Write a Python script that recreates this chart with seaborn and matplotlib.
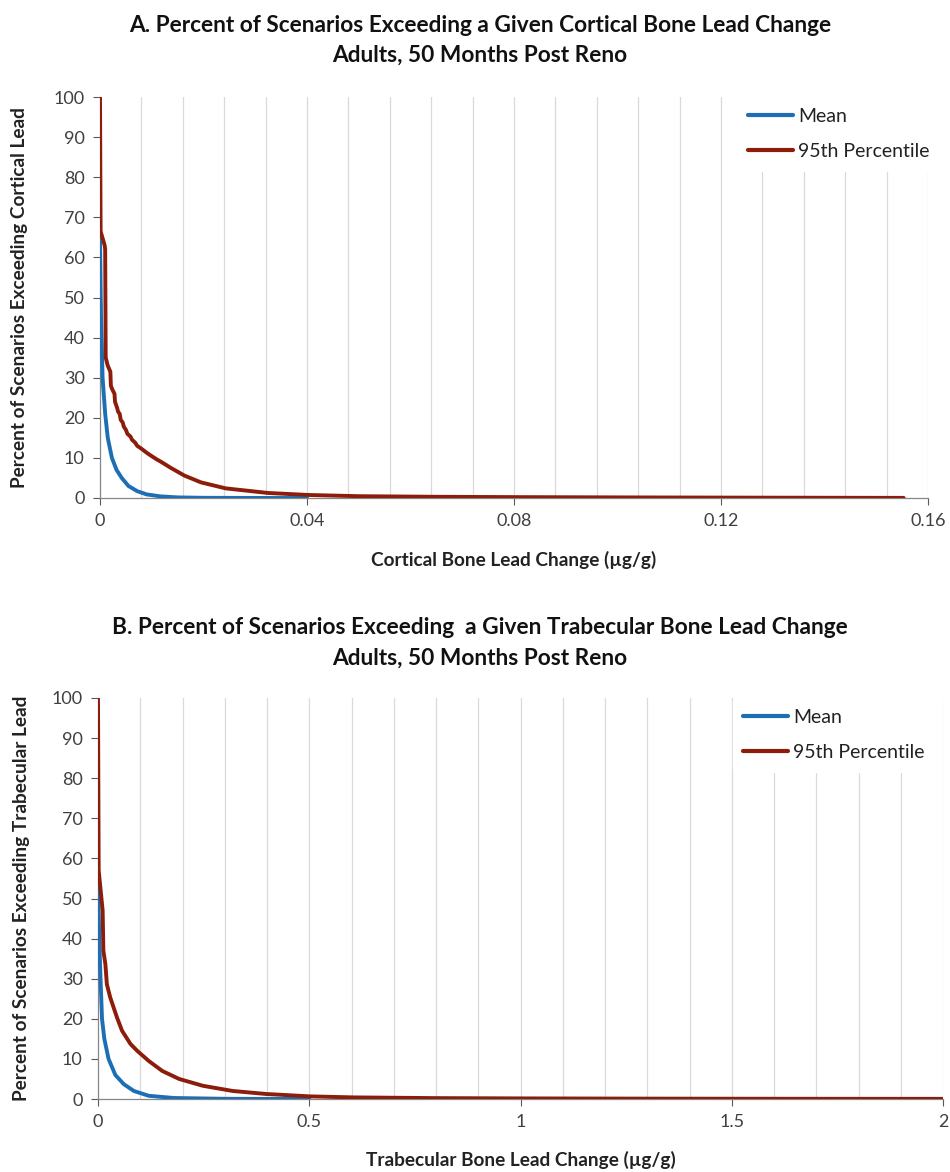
import matplotlib
matplotlib.use("Agg")
import matplotlib.pyplot as plt
import seaborn as sns
import pandas as pd
import numpy as np

# ---------------- data ----------------
a_mean_x = [0, 0.0002, 0.0005, 0.001, 0.0015, 0.0023, 0.0032, 0.0042, 0.0055, 0.0072, 0.009, 0.0117, 0.015, 0.02, 0.03, 0.04]
a_mean_y = [65, 45, 30, 21, 15, 10, 7, 5, 3, 1.7, 0.9, 0.4, 0.15, 0.05, 0.01, 0]

a_p95_x = [0, 0.00012, 0.0009, 0.001, 0.0011, 0.0015, 0.002, 0.0021, 0.0024, 0.0028, 0.0029, 0.0033,
           0.0035, 0.0038, 0.004, 0.0044, 0.0046, 0.005, 0.0053, 0.0059, 0.0062, 0.0068, 0.0072, 0.008,
           0.009, 0.0098, 0.011, 0.0117, 0.0137, 0.0163, 0.0195, 0.0243, 0.0325, 0.0403, 0.05, 0.065,
           0.08, 0.1, 0.12, 0.14, 0.1553]
a_p95_y = [100, 66.5, 63, 62, 35, 33, 31.5, 28, 27, 26, 24, 22.5,
           21.5, 21, 19.5, 18.8, 17.8, 17, 16, 15.3, 14.5, 13.8, 13, 12.3,
           11.3, 10.6, 9.6, 9.1, 7.5, 5.6, 3.9, 2.4, 1.25, 0.75, 0.45, 0.3,
           0.22, 0.15, 0.1, 0.06, 0.03]

b_mean_x = [0, 0.003, 0.006, 0.0095, 0.015, 0.025, 0.041, 0.061, 0.085, 0.12, 0.18, 0.3, 0.5]
b_mean_y = [55, 40, 30, 20, 15, 10, 6, 3.7, 2, 0.8, 0.25, 0.05, 0]

b_p95_x = [0, 0.0016, 0.011, 0.0127, 0.0175, 0.021, 0.029, 0.037, 0.045, 0.057, 0.077, 0.093, 0.12,
           0.152, 0.192, 0.248, 0.319, 0.398, 0.5, 0.605, 0.8, 1.0, 1.25, 1.5, 1.75, 2.0]
b_p95_y = [100, 57, 47, 37, 33.6, 28.6, 25.3, 22.8, 20.3, 17, 13.7, 12, 9.5,
           7, 5, 3.3, 2, 1.25, 0.66, 0.4, 0.22, 0.15, 0.1, 0.07, 0.05, 0.04]

series_names = ["Mean", "95th Percentile"]
colors = {"Mean": "#1c6fb4", "95th Percentile": "#8c1d0b"}

titles_a = ["A. Percent of Scenarios Exceeding a Given Cortical Bone Lead Change", "Adults, 50 Months Post Reno"]
titles_b = ["B. Percent of Scenarios Exceeding  a Given Trabecular Bone Lead Change", "Adults, 50 Months Post Reno"]
xlabel_a = "Cortical Bone Lead Change (µg/g)"
xlabel_b = "Trabecular Bone Lead Change (µg/g)"
ylabel_a = "Percent of Scenarios Exceeding Cortical Lead"
ylabel_b = "Percent of Scenarios Exceeding Trabecular Lead"
xticks_a = [0, 0.04, 0.08, 0.12, 0.16]
xticklabels_a = ["0", "0.04", "0.08", "0.12", "0.16"]
xticks_b = [0, 0.5, 1, 1.5, 2]
xticklabels_b = ["0", "0.5", "1", "1.5", "2"]
yticks = list(range(0, 101, 10))

# ---------------- style ----------------
sns.set_theme(style="white")
plt.rcParams['font.family'] = ['Lato', 'DejaVu Sans']

fig = plt.figure(figsize=(9.5, 11.72), dpi=100)
W, H = 950, 1172

def make_df(mx, my, px, py):
    return pd.concat([
        pd.DataFrame({"x": mx, "y": my, "series": series_names[0]}),
        pd.DataFrame({"x": px, "y": py, "series": series_names[1]}),
    ], ignore_index=True)

def panel(rect, df, xmax, grid_step, xticks, xticklabels, xlabel, ylabel, titles, title_y,
          ylabel_x, xlabel_y, leg_right):
    l, t, r, b = rect
    ax = fig.add_axes([l / W, 1 - b / H, (r - l) / W, (b - t) / H])
    for gx in np.arange(grid_step, xmax + grid_step / 2, grid_step):
        ax.axvline(gx, color="#d9d9d9", lw=0.9, zorder=0)
    sns.lineplot(data=df, x="x", y="y", hue="series", palette=colors, hue_order=series_names,
                 estimator=None, sort=False, lw=2.8, ax=ax, zorder=3)
    ax.set_xlim(0, xmax)
    ax.set_ylim(0, 100)
    ax.set_xticks(xticks)
    ax.set_xticklabels(xticklabels)
    ax.set_yticks(yticks)
    ax.tick_params(axis="both", labelsize=13, colors="#595959", length=5, width=0.8,
                   direction="out", left=True, bottom=True, pad=6)
    ax.tick_params(axis="both", labelcolor="#404040")
    for s in ["top", "right"]:
        ax.spines[s].set_visible(False)
    for s in ["left", "bottom"]:
        ax.spines[s].set_color("#868686")
        ax.spines[s].set_linewidth(0.9)
    ax.set_xlabel(xlabel, fontsize=13.7, fontweight="bold", color="#222222")
    ax.set_ylabel(ylabel, fontsize=13.7, fontweight="bold", color="#222222")
    ax.yaxis.set_label_coords((ylabel_x - l) / (r - l), 0.5)
    ax.xaxis.set_label_coords(0.5, -(xlabel_y - b) / (b - t))
    ax.xaxis.label.set_va("center")
    ax.yaxis.label.set_va("center")
    leg = ax.legend(loc="upper right", bbox_to_anchor=((leg_right - l) / (r - l), 1.0), frameon=True,
                    fontsize=14, handlelength=2.3, handletextpad=0.25, labelspacing=0.95,
                    borderpad=0.55, borderaxespad=0.0)
    leg.get_frame().set_facecolor("white")
    leg.get_frame().set_edgecolor("white")
    leg.get_frame().set_alpha(1.0)
    for line in leg.get_lines():
        line.set_linewidth(3.0)
    for txt in leg.get_texts():
        txt.set_color("#222222")
    cx = 480
    fig.text(cx / W, 1 - title_y[0] / H, titles[0], ha="center", va="center",
             fontsize=16.3, fontweight="bold", color="#111111")
    fig.text(cx / W, 1 - title_y[1] / H, titles[1], ha="center", va="center",
             fontsize=16.3, fontweight="bold", color="#111111")
    return ax

df_a = make_df(a_mean_x, a_mean_y, a_p95_x, a_p95_y)
df_b = make_df(b_mean_x, b_mean_y, b_p95_x, b_p95_y)

panel((100, 97, 928, 498), df_a, 0.16, 0.008, xticks_a, xticklabels_a, xlabel_a, ylabel_a,
      titles_a, (25, 55), 20, 560, 940)
panel((98, 698, 943, 1099), df_b, 2.0, 0.1, xticks_b, xticklabels_b, xlabel_b, ylabel_b,
      titles_b, (628, 658), 22, 1160, 935)

fig.savefig("out.png", dpi=100)
